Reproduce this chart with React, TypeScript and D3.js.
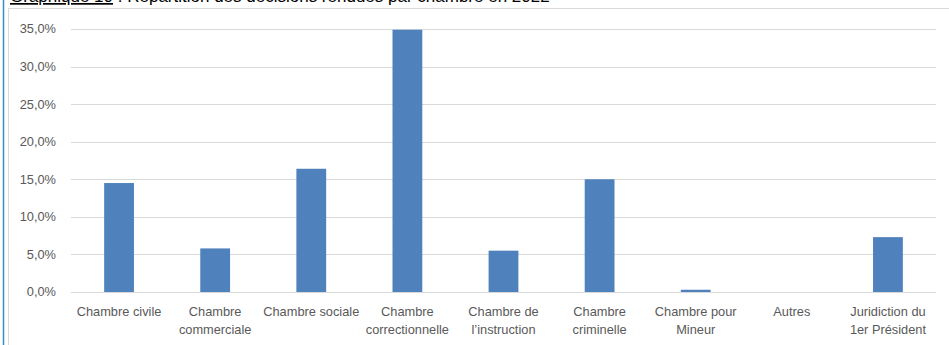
import React from "react";
import * as d3 from "d3";

const categories: string[][] = [
  ["Chambre civile"],
  ["Chambre", "commerciale"],
  ["Chambre sociale"],
  ["Chambre", "correctionnelle"],
  ["Chambre de", "l’instruction"],
  ["Chambre", "criminelle"],
  ["Chambre pour", "Mineur"],
  ["Autres"],
  ["Juridiction du", "1er Président"],
];
const values: number[] = [14.5, 5.8, 16.4, 34.9, 5.5, 15.0, 0.3, 0, 7.3];
const yTicks: number[] = [0, 5, 10, 15, 20, 25, 30, 35];

const W = 949;
const H = 345;
const left = 71;
const right = 936;
const top = 29;
const bottom = 292;

export default function App() {
  const x = d3
    .scaleBand<number>()
    .domain(d3.range(categories.length))
    .range([left, right])
    .paddingInner(0.69)
    .paddingOuter(0.345);
  const y = d3.scaleLinear().domain([0, 35]).range([bottom, top]);
  const fmt = (v: number) => v.toFixed(1).replace(".", ",") + "%";
  const font = "'Liberation Sans', Arial, sans-serif";
  const step = (right - left) / categories.length;

  return (
    <svg
      width={W}
      height={H}
      style={{ position: "absolute", left: 0, top: 0, display: "block" }}
    >
      <rect x={0} y={0} width={W} height={H} fill="#fff" />
      {/* page decorations */}
      <line x1={3.5} x2={3.5} y1={0} y2={H} stroke="#3b8dbd" strokeWidth={1.5} />
      <path d={`M8.5,${H} V8.5 H${W}`} fill="none" stroke="#d9d9d9" strokeWidth={1} />
      <text x={10} y={2} fontFamily={font} fontSize={17} fill="#000">
        <tspan textDecoration="underline">Graphique 10</tspan>
        <tspan> : Répartition des décisions rendues par chambre en 2022</tspan>
      </text>
      {/* gridlines */}
      {yTicks.map((t) => (
        <g key={t}>
          <line
            x1={left}
            x2={right}
            y1={Math.round(y(t)) + 0.5}
            y2={Math.round(y(t)) + 0.5}
            stroke="#d9d9d9"
            strokeWidth={1}
          />
          <text
            x={56}
            y={y(t)}
            dy="0.35em"
            textAnchor="end"
            fontFamily={font}
            fontSize={12.8}
            fill="#595959"
          >
            {fmt(t)}
          </text>
        </g>
      ))}
      {/* bars */}
      {values.map((v, i) => (
        <rect
          key={i}
          x={x(i)!}
          y={y(v)}
          width={x.bandwidth()}
          height={bottom - y(v)}
          fill="#4f81bd"
        />
      ))}
      {/* category labels */}
      {categories.map((lines, i) => (
        <text
          key={i}
          x={left + step * (i + 0.5)}
          y={316}
          textAnchor="middle"
          fontFamily={font}
          fontSize={12.8}
          fill="#595959"
        >
          {lines.map((l, j) => (
            <tspan key={j} x={left + step * (i + 0.5)} dy={j === 0 ? 0 : 17.5}>
              {l}
            </tspan>
          ))}
        </text>
      ))}
    </svg>
  );
}
